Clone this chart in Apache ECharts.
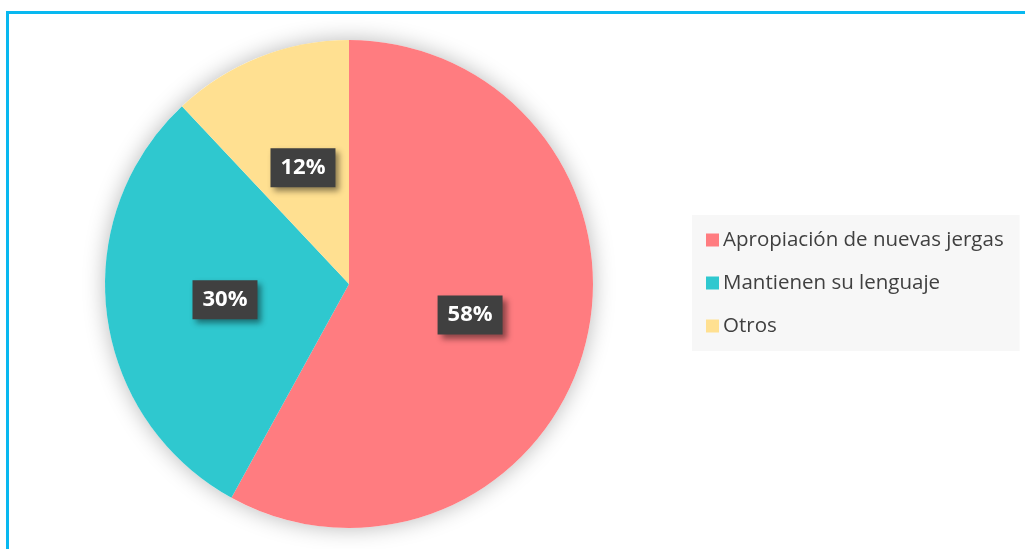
<!DOCTYPE html>
<html>
<head>
<meta charset="utf-8">
<script src="https://cdn.jsdelivr.net/npm/echarts@6/dist/echarts.min.js"></script>
<style>
  html, body { margin: 0; padding: 0; background: #fff; }
  #main { width: 1025px; height: 549px; }
</style>
</head>
<body>
<div id="main"></div>
<script>
var categories = ['Apropiación de nuevas jergas', 'Mantienen su lenguaje', 'Otros'];
var values = [58, 30, 12];
var colors = ['#ff7c80', '#2fc8cf', '#ffe091'];

var chart = echarts.init(document.getElementById('main'));

var pieData = [];
for (var i = 0; i < categories.length; i++) {
  pieData.push({ name: categories[i], value: values[i], itemStyle: { color: colors[i] } });
}

var option = {
  backgroundColor: '#fff',
  animation: false,
  graphic: [{
    type: 'rect',
    left: 5,
    top: 10,
    shape: { width: 1100, height: 600 },
    style: { fill: 'none', stroke: '#08b8f0', lineWidth: 3 },
    z: 100
  }],
  legend: {
    data: categories,
    orient: 'vertical',
    left: 692,
    top: 215,
    padding: [14, 16, 14, 14],
    backgroundColor: '#f7f7f7',
    icon: 'rect',
    itemWidth: 13,
    itemHeight: 13,
    itemGap: 21,
    textStyle: {
      fontFamily: 'Open Sans',
      fontSize: 20.5,
      lineHeight: 22,
      color: '#404040',
      padding: [0, 0, 0, -1]
    }
  },
  series: [{
    // shadow behind the whole pie
    type: 'pie',
    silent: true,
    center: [349, 284],
    radius: 244,
    label: { show: false },
    labelLine: { show: false },
    itemStyle: {
      color: '#fff',
      shadowBlur: 22,
      shadowColor: 'rgba(0,0,0,0.28)'
    },
    data: [{ name: 'bg', value: 1 }],
    z: 1
  }, {
    type: 'pie',
    center: [349, 284],
    radius: 244,
    startAngle: 90,
    clockwise: true,
    data: pieData,
    itemStyle: { borderWidth: 0 },
    label: {
      show: true,
      position: 'inside',
      formatter: '{d}%',
      fontFamily: 'Open Sans',
      fontWeight: 'bold',
      fontSize: 22,
      color: '#fff',
      backgroundColor: '#404040',
      padding: [9, 10, 8, 10],
      shadowColor: 'rgba(0,0,0,0.45)',
      shadowBlur: 6,
      shadowOffsetX: 4,
      shadowOffsetY: 4
    },
    labelLine: { show: false },
    z: 2
  }]
};

chart.setOption(option);
</script>
</body>
</html>
